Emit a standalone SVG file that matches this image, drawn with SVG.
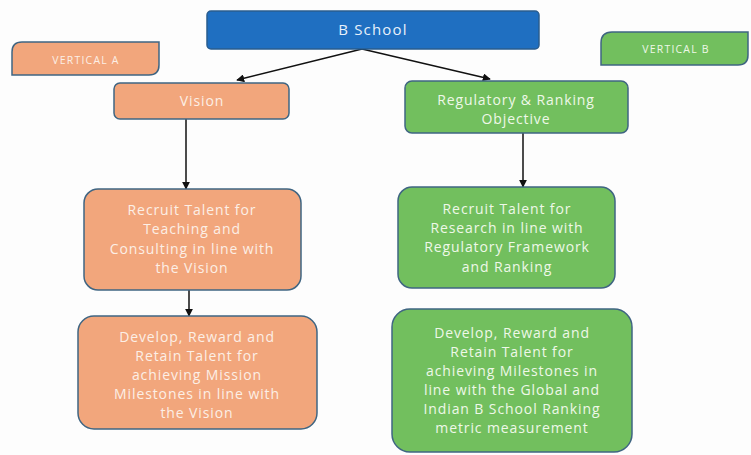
<svg xmlns="http://www.w3.org/2000/svg" width="751" height="455" viewBox="0 0 751 455">
<defs>
<style>
.o{fill:#f2a67c;stroke:#3f6582;stroke-width:1.5}
.g{fill:#72bf5e;stroke:#3f6582;stroke-width:1.5}
.b{fill:#1f6fc1;stroke:#2a5d8f;stroke-width:1.5}
text{font-family:"Open Sans","Liberation Sans",sans-serif;font-size:14px;letter-spacing:0.9px;text-anchor:middle;dominant-baseline:central}
.to{fill:#fcefe6}
.tg{fill:#eef8e8}
.tb{fill:#e8f1fb;font-size:15px;letter-spacing:1.2px}
.ts{font-size:10.5px;letter-spacing:1.2px}
.c{stroke:#111;stroke-width:1.5;fill:none;marker-end:url(#ah)}
</style>
<marker id="ah" viewBox="0 0 10 10" refX="9" refY="5" markerWidth="8" markerHeight="8" orient="auto" markerUnits="userSpaceOnUse">
<path d="M0,0 L10,5 L0,10 z" fill="#111"/>
</marker>
</defs>
<rect width="751" height="455" fill="#fdfdfd"/>
<g id="connectors">
<line class="c" x1="362" y1="49" x2="237" y2="80"/>
<line class="c" x1="362" y1="49" x2="490" y2="79"/>
<line class="c" x1="186" y1="119" x2="186" y2="189"/>
<line class="c" x1="523" y1="133" x2="523" y2="187"/>
<line class="c" x1="189" y1="290" x2="189" y2="316"/>
</g>
<g id="bschool">
<rect class="b" x="207" y="11" width="332" height="38" rx="4"/>
<text class="tb" x="373" y="29">B School</text>
</g>
<g id="verticalA">
<path class="o" d="M22,42 H159 V65 Q159,75 149,75 H12 V52 Q12,42 22,42 Z"/>
<text class="to ts" x="86" y="60">VERTICAL A</text>
</g>
<g id="verticalB">
<path class="g" d="M612,32 H748 V55 Q748,65 738,65 H601 V43 Q601,32 612,32 Z"/>
<text class="tg ts" x="676" y="49">VERTICAL B</text>
</g>
<g id="vision">
<rect class="o" x="114" y="83" width="175" height="36" rx="6"/>
<text class="to" x="202" y="100">Vision</text>
</g>
<g id="regulatory">
<rect class="g" x="405" y="81" width="223" height="52" rx="7"/>
<text class="tg" x="516" y="99">Regulatory &amp; Ranking</text>
<text class="tg" x="516" y="118">Objective</text>
</g>
<g id="recruitLeft">
<rect class="o" x="84" y="189" width="217" height="101" rx="14"/>
<text class="to" x="192" y="209">Recruit Talent for</text>
<text class="to" x="192" y="228">Teaching and</text>
<text class="to" x="192" y="248">Consulting in line with</text>
<text class="to" x="192" y="267">the Vision</text>
</g>
<g id="recruitRight">
<rect class="g" x="398" y="187" width="217" height="101" rx="14"/>
<text class="tg" x="507" y="208">Recruit Talent for</text>
<text class="tg" x="507" y="227">Research in line with</text>
<text class="tg" x="507" y="246">Regulatory Framework</text>
<text class="tg" x="507" y="266">and Ranking</text>
</g>
<g id="developLeft">
<rect class="o" x="78" y="316" width="239" height="113" rx="16"/>
<text class="to" x="197" y="336">Develop, Reward and</text>
<text class="to" x="197" y="355">Retain Talent for</text>
<text class="to" x="197" y="374">achieving Mission</text>
<text class="to" x="197" y="393">Milestones in line with</text>
<text class="to" x="197" y="412">the Vision</text>
</g>
<g id="developRight">
<rect class="g" x="392" y="309" width="240" height="143" rx="18"/>
<text class="tg" x="512" y="332">Develop, Reward and</text>
<text class="tg" x="512" y="351">Retain Talent for</text>
<text class="tg" x="512" y="370">achieving Milestones in</text>
<text class="tg" x="512" y="389">line with the Global and</text>
<text class="tg" x="512" y="408">Indian B School Ranking</text>
<text class="tg" x="512" y="427">metric measurement</text>
</g>
</svg>
